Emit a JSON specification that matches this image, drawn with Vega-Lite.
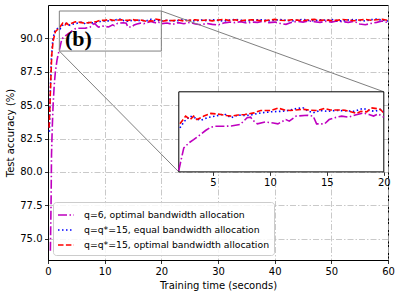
{
  "$schema": "https://vega.github.io/schema/vega-lite/v6.json",
  "width": 340,
  "height": 255,
  "autosize": {"type": "none"},
  "padding": {"left": 48, "top": 5, "right": 11, "bottom": 31},
  "background": "white",
  "datasets": {
    "acc": [
      {"t": 0.42, "acc": 74.1, "s": "q=6, optimal bandwidth allocation"},
      {"t": 0.55, "acc": 78.0, "s": "q=6, optimal bandwidth allocation"},
      {"t": 0.62, "acc": 81.3, "s": "q=6, optimal bandwidth allocation"},
      {"t": 0.75, "acc": 83.3, "s": "q=6, optimal bandwidth allocation"},
      {"t": 0.9, "acc": 85.0, "s": "q=6, optimal bandwidth allocation"},
      {"t": 1.1, "acc": 86.5, "s": "q=6, optimal bandwidth allocation"},
      {"t": 1.3, "acc": 87.5, "s": "q=6, optimal bandwidth allocation"},
      {"t": 1.6, "acc": 88.4, "s": "q=6, optimal bandwidth allocation"},
      {"t": 1.85, "acc": 88.9, "s": "q=6, optimal bandwidth allocation"},
      {"t": 2.0, "acc": 89.1, "s": "q=6, optimal bandwidth allocation"},
      {"t": 2.15, "acc": 89.4, "s": "q=6, optimal bandwidth allocation"},
      {"t": 2.44, "acc": 89.95, "s": "q=6, optimal bandwidth allocation"},
      {"t": 2.9, "acc": 90.14, "s": "q=6, optimal bandwidth allocation"},
      {"t": 3.3, "acc": 90.26, "s": "q=6, optimal bandwidth allocation"},
      {"t": 3.9, "acc": 90.45, "s": "q=6, optimal bandwidth allocation"},
      {"t": 4.35, "acc": 90.6, "s": "q=6, optimal bandwidth allocation"},
      {"t": 4.8, "acc": 90.72, "s": "q=6, optimal bandwidth allocation"},
      {"t": 5.2, "acc": 90.76, "s": "q=6, optimal bandwidth allocation"},
      {"t": 6.0, "acc": 90.76, "s": "q=6, optimal bandwidth allocation"},
      {"t": 6.6, "acc": 90.77, "s": "q=6, optimal bandwidth allocation"},
      {"t": 7.4, "acc": 90.83, "s": "q=6, optimal bandwidth allocation"},
      {"t": 8.0, "acc": 91.08, "s": "q=6, optimal bandwidth allocation"},
      {"t": 8.3, "acc": 91.1, "s": "q=6, optimal bandwidth allocation"},
      {"t": 8.6, "acc": 90.95, "s": "q=6, optimal bandwidth allocation"},
      {"t": 8.9, "acc": 90.85, "s": "q=6, optimal bandwidth allocation"},
      {"t": 9.6, "acc": 90.92, "s": "q=6, optimal bandwidth allocation"},
      {"t": 10.3, "acc": 90.88, "s": "q=6, optimal bandwidth allocation"},
      {"t": 10.7, "acc": 90.85, "s": "q=6, optimal bandwidth allocation"},
      {"t": 11.4, "acc": 91.01, "s": "q=6, optimal bandwidth allocation"},
      {"t": 11.7, "acc": 90.95, "s": "q=6, optimal bandwidth allocation"},
      {"t": 12.3, "acc": 91.14, "s": "q=6, optimal bandwidth allocation"},
      {"t": 13.3, "acc": 91.17, "s": "q=6, optimal bandwidth allocation"},
      {"t": 13.8, "acc": 91.14, "s": "q=6, optimal bandwidth allocation"},
      {"t": 14.1, "acc": 90.85, "s": "q=6, optimal bandwidth allocation"},
      {"t": 14.8, "acc": 90.85, "s": "q=6, optimal bandwidth allocation"},
      {"t": 15.2, "acc": 91.01, "s": "q=6, optimal bandwidth allocation"},
      {"t": 15.7, "acc": 91.08, "s": "q=6, optimal bandwidth allocation"},
      {"t": 16.3, "acc": 91.14, "s": "q=6, optimal bandwidth allocation"},
      {"t": 16.9, "acc": 91.1, "s": "q=6, optimal bandwidth allocation"},
      {"t": 17.5, "acc": 91.18, "s": "q=6, optimal bandwidth allocation"},
      {"t": 18.2, "acc": 91.26, "s": "q=6, optimal bandwidth allocation"},
      {"t": 18.7, "acc": 91.2, "s": "q=6, optimal bandwidth allocation"},
      {"t": 19.1, "acc": 91.14, "s": "q=6, optimal bandwidth allocation"},
      {"t": 19.5, "acc": 91.22, "s": "q=6, optimal bandwidth allocation"},
      {"t": 20.0, "acc": 91.1, "s": "q=6, optimal bandwidth allocation"},
      {"t": 21, "acc": 91.15, "s": "q=6, optimal bandwidth allocation"},
      {"t": 22, "acc": 91.05, "s": "q=6, optimal bandwidth allocation"},
      {"t": 23, "acc": 91.18, "s": "q=6, optimal bandwidth allocation"},
      {"t": 24, "acc": 91.1, "s": "q=6, optimal bandwidth allocation"},
      {"t": 25, "acc": 91.2, "s": "q=6, optimal bandwidth allocation"},
      {"t": 26, "acc": 91.08, "s": "q=6, optimal bandwidth allocation"},
      {"t": 27, "acc": 91.02, "s": "q=6, optimal bandwidth allocation"},
      {"t": 28, "acc": 91.12, "s": "q=6, optimal bandwidth allocation"},
      {"t": 29, "acc": 91.05, "s": "q=6, optimal bandwidth allocation"},
      {"t": 30, "acc": 91.0, "s": "q=6, optimal bandwidth allocation"},
      {"t": 31, "acc": 91.15, "s": "q=6, optimal bandwidth allocation"},
      {"t": 32, "acc": 91.22, "s": "q=6, optimal bandwidth allocation"},
      {"t": 33, "acc": 91.18, "s": "q=6, optimal bandwidth allocation"},
      {"t": 34, "acc": 91.25, "s": "q=6, optimal bandwidth allocation"},
      {"t": 35, "acc": 91.15, "s": "q=6, optimal bandwidth allocation"},
      {"t": 36, "acc": 91.22, "s": "q=6, optimal bandwidth allocation"},
      {"t": 37, "acc": 91.2, "s": "q=6, optimal bandwidth allocation"},
      {"t": 38, "acc": 91.28, "s": "q=6, optimal bandwidth allocation"},
      {"t": 39, "acc": 91.18, "s": "q=6, optimal bandwidth allocation"},
      {"t": 40, "acc": 91.22, "s": "q=6, optimal bandwidth allocation"},
      {"t": 41, "acc": 91.12, "s": "q=6, optimal bandwidth allocation"},
      {"t": 42, "acc": 91.05, "s": "q=6, optimal bandwidth allocation"},
      {"t": 43, "acc": 91.2, "s": "q=6, optimal bandwidth allocation"},
      {"t": 44, "acc": 91.28, "s": "q=6, optimal bandwidth allocation"},
      {"t": 45, "acc": 91.22, "s": "q=6, optimal bandwidth allocation"},
      {"t": 46, "acc": 91.3, "s": "q=6, optimal bandwidth allocation"},
      {"t": 47, "acc": 91.25, "s": "q=6, optimal bandwidth allocation"},
      {"t": 48, "acc": 91.2, "s": "q=6, optimal bandwidth allocation"},
      {"t": 49, "acc": 91.28, "s": "q=6, optimal bandwidth allocation"},
      {"t": 50, "acc": 91.22, "s": "q=6, optimal bandwidth allocation"},
      {"t": 51, "acc": 91.3, "s": "q=6, optimal bandwidth allocation"},
      {"t": 52, "acc": 91.25, "s": "q=6, optimal bandwidth allocation"},
      {"t": 53, "acc": 91.2, "s": "q=6, optimal bandwidth allocation"},
      {"t": 54, "acc": 91.28, "s": "q=6, optimal bandwidth allocation"},
      {"t": 55, "acc": 91.08, "s": "q=6, optimal bandwidth allocation"},
      {"t": 56, "acc": 91.02, "s": "q=6, optimal bandwidth allocation"},
      {"t": 57, "acc": 91.12, "s": "q=6, optimal bandwidth allocation"},
      {"t": 58, "acc": 91.2, "s": "q=6, optimal bandwidth allocation"},
      {"t": 59, "acc": 91.3, "s": "q=6, optimal bandwidth allocation"},
      {"t": 60, "acc": 91.18, "s": "q=6, optimal bandwidth allocation"},

      {"t": 0.25, "acc": 83.0, "s": "q=q*=15, equal bandwidth allocation"},
      {"t": 0.4, "acc": 86.0, "s": "q=q*=15, equal bandwidth allocation"},
      {"t": 0.6, "acc": 88.5, "s": "q=q*=15, equal bandwidth allocation"},
      {"t": 0.85, "acc": 89.9, "s": "q=q*=15, equal bandwidth allocation"},
      {"t": 1.2, "acc": 90.55, "s": "q=q*=15, equal bandwidth allocation"},
      {"t": 1.8, "acc": 90.8, "s": "q=q*=15, equal bandwidth allocation"},
      {"t": 2.1, "acc": 90.7, "s": "q=q*=15, equal bandwidth allocation"},
      {"t": 2.5, "acc": 90.95, "s": "q=q*=15, equal bandwidth allocation"},
      {"t": 3.0, "acc": 91.14, "s": "q=q*=15, equal bandwidth allocation"},
      {"t": 3.4, "acc": 91.08, "s": "q=q*=15, equal bandwidth allocation"},
      {"t": 3.9, "acc": 90.98, "s": "q=q*=15, equal bandwidth allocation"},
      {"t": 4.5, "acc": 91.08, "s": "q=q*=15, equal bandwidth allocation"},
      {"t": 5.2, "acc": 91.14, "s": "q=q*=15, equal bandwidth allocation"},
      {"t": 6.0, "acc": 91.22, "s": "q=q*=15, equal bandwidth allocation"},
      {"t": 6.6, "acc": 91.08, "s": "q=q*=15, equal bandwidth allocation"},
      {"t": 7.2, "acc": 91.18, "s": "q=q*=15, equal bandwidth allocation"},
      {"t": 7.8, "acc": 91.16, "s": "q=q*=15, equal bandwidth allocation"},
      {"t": 8.3, "acc": 91.18, "s": "q=q*=15, equal bandwidth allocation"},
      {"t": 9.2, "acc": 91.26, "s": "q=q*=15, equal bandwidth allocation"},
      {"t": 10.1, "acc": 91.3, "s": "q=q*=15, equal bandwidth allocation"},
      {"t": 11.0, "acc": 91.32, "s": "q=q*=15, equal bandwidth allocation"},
      {"t": 11.6, "acc": 91.35, "s": "q=q*=15, equal bandwidth allocation"},
      {"t": 12.4, "acc": 91.43, "s": "q=q*=15, equal bandwidth allocation"},
      {"t": 12.9, "acc": 91.45, "s": "q=q*=15, equal bandwidth allocation"},
      {"t": 13.4, "acc": 91.32, "s": "q=q*=15, equal bandwidth allocation"},
      {"t": 13.8, "acc": 91.26, "s": "q=q*=15, equal bandwidth allocation"},
      {"t": 14.4, "acc": 91.35, "s": "q=q*=15, equal bandwidth allocation"},
      {"t": 15.0, "acc": 91.32, "s": "q=q*=15, equal bandwidth allocation"},
      {"t": 15.8, "acc": 91.35, "s": "q=q*=15, equal bandwidth allocation"},
      {"t": 16.6, "acc": 91.34, "s": "q=q*=15, equal bandwidth allocation"},
      {"t": 17.4, "acc": 91.32, "s": "q=q*=15, equal bandwidth allocation"},
      {"t": 18.2, "acc": 91.43, "s": "q=q*=15, equal bandwidth allocation"},
      {"t": 18.7, "acc": 91.35, "s": "q=q*=15, equal bandwidth allocation"},
      {"t": 19.2, "acc": 91.32, "s": "q=q*=15, equal bandwidth allocation"},
      {"t": 19.7, "acc": 91.39, "s": "q=q*=15, equal bandwidth allocation"},
      {"t": 20.0, "acc": 91.3, "s": "q=q*=15, equal bandwidth allocation"},
      {"t": 21, "acc": 91.36, "s": "q=q*=15, equal bandwidth allocation"},
      {"t": 22, "acc": 91.3, "s": "q=q*=15, equal bandwidth allocation"},
      {"t": 23, "acc": 91.34, "s": "q=q*=15, equal bandwidth allocation"},
      {"t": 24, "acc": 91.4, "s": "q=q*=15, equal bandwidth allocation"},
      {"t": 25, "acc": 91.35, "s": "q=q*=15, equal bandwidth allocation"},
      {"t": 26, "acc": 91.3, "s": "q=q*=15, equal bandwidth allocation"},
      {"t": 27, "acc": 91.38, "s": "q=q*=15, equal bandwidth allocation"},
      {"t": 28, "acc": 91.33, "s": "q=q*=15, equal bandwidth allocation"},
      {"t": 29, "acc": 91.4, "s": "q=q*=15, equal bandwidth allocation"},
      {"t": 30, "acc": 91.35, "s": "q=q*=15, equal bandwidth allocation"},
      {"t": 31, "acc": 91.3, "s": "q=q*=15, equal bandwidth allocation"},
      {"t": 32, "acc": 91.37, "s": "q=q*=15, equal bandwidth allocation"},
      {"t": 33, "acc": 91.42, "s": "q=q*=15, equal bandwidth allocation"},
      {"t": 34, "acc": 91.36, "s": "q=q*=15, equal bandwidth allocation"},
      {"t": 35, "acc": 91.3, "s": "q=q*=15, equal bandwidth allocation"},
      {"t": 36, "acc": 91.35, "s": "q=q*=15, equal bandwidth allocation"},
      {"t": 37, "acc": 91.4, "s": "q=q*=15, equal bandwidth allocation"},
      {"t": 38, "acc": 91.38, "s": "q=q*=15, equal bandwidth allocation"},
      {"t": 39, "acc": 91.32, "s": "q=q*=15, equal bandwidth allocation"},
      {"t": 40, "acc": 91.36, "s": "q=q*=15, equal bandwidth allocation"},
      {"t": 41, "acc": 91.41, "s": "q=q*=15, equal bandwidth allocation"},
      {"t": 42, "acc": 91.35, "s": "q=q*=15, equal bandwidth allocation"},
      {"t": 43, "acc": 91.3, "s": "q=q*=15, equal bandwidth allocation"},
      {"t": 44, "acc": 91.38, "s": "q=q*=15, equal bandwidth allocation"},
      {"t": 45, "acc": 91.42, "s": "q=q*=15, equal bandwidth allocation"},
      {"t": 46, "acc": 91.34, "s": "q=q*=15, equal bandwidth allocation"},
      {"t": 47, "acc": 91.31, "s": "q=q*=15, equal bandwidth allocation"},
      {"t": 48, "acc": 91.4, "s": "q=q*=15, equal bandwidth allocation"},
      {"t": 49, "acc": 91.36, "s": "q=q*=15, equal bandwidth allocation"},
      {"t": 50, "acc": 91.42, "s": "q=q*=15, equal bandwidth allocation"},
      {"t": 51, "acc": 91.33, "s": "q=q*=15, equal bandwidth allocation"},
      {"t": 52, "acc": 91.3, "s": "q=q*=15, equal bandwidth allocation"},
      {"t": 53, "acc": 91.38, "s": "q=q*=15, equal bandwidth allocation"},
      {"t": 54, "acc": 91.41, "s": "q=q*=15, equal bandwidth allocation"},
      {"t": 55, "acc": 91.35, "s": "q=q*=15, equal bandwidth allocation"},
      {"t": 56, "acc": 91.3, "s": "q=q*=15, equal bandwidth allocation"},
      {"t": 57, "acc": 91.4, "s": "q=q*=15, equal bandwidth allocation"},
      {"t": 58, "acc": 91.44, "s": "q=q*=15, equal bandwidth allocation"},
      {"t": 59, "acc": 91.36, "s": "q=q*=15, equal bandwidth allocation"},
      {"t": 60, "acc": 91.3, "s": "q=q*=15, equal bandwidth allocation"},

      {"t": 0.2, "acc": 83.3, "s": "q=q*=15, optimal bandwidth allocation"},
      {"t": 0.45, "acc": 86.3, "s": "q=q*=15, optimal bandwidth allocation"},
      {"t": 0.65, "acc": 88.7, "s": "q=q*=15, optimal bandwidth allocation"},
      {"t": 0.9, "acc": 89.8, "s": "q=q*=15, optimal bandwidth allocation"},
      {"t": 1.3, "acc": 90.5, "s": "q=q*=15, optimal bandwidth allocation"},
      {"t": 1.9, "acc": 90.75, "s": "q=q*=15, optimal bandwidth allocation"},
      {"t": 2.1, "acc": 90.85, "s": "q=q*=15, optimal bandwidth allocation"},
      {"t": 2.6, "acc": 91.14, "s": "q=q*=15, optimal bandwidth allocation"},
      {"t": 3.0, "acc": 91.01, "s": "q=q*=15, optimal bandwidth allocation"},
      {"t": 3.3, "acc": 91.14, "s": "q=q*=15, optimal bandwidth allocation"},
      {"t": 3.6, "acc": 91.01, "s": "q=q*=15, optimal bandwidth allocation"},
      {"t": 4.2, "acc": 91.14, "s": "q=q*=15, optimal bandwidth allocation"},
      {"t": 4.8, "acc": 91.24, "s": "q=q*=15, optimal bandwidth allocation"},
      {"t": 5.3, "acc": 91.22, "s": "q=q*=15, optimal bandwidth allocation"},
      {"t": 5.7, "acc": 91.2, "s": "q=q*=15, optimal bandwidth allocation"},
      {"t": 6.2, "acc": 91.16, "s": "q=q*=15, optimal bandwidth allocation"},
      {"t": 6.6, "acc": 91.14, "s": "q=q*=15, optimal bandwidth allocation"},
      {"t": 7.2, "acc": 91.18, "s": "q=q*=15, optimal bandwidth allocation"},
      {"t": 7.8, "acc": 91.2, "s": "q=q*=15, optimal bandwidth allocation"},
      {"t": 8.6, "acc": 91.26, "s": "q=q*=15, optimal bandwidth allocation"},
      {"t": 9.2, "acc": 91.35, "s": "q=q*=15, optimal bandwidth allocation"},
      {"t": 10.1, "acc": 91.35, "s": "q=q*=15, optimal bandwidth allocation"},
      {"t": 10.7, "acc": 91.44, "s": "q=q*=15, optimal bandwidth allocation"},
      {"t": 11.3, "acc": 91.37, "s": "q=q*=15, optimal bandwidth allocation"},
      {"t": 11.8, "acc": 91.35, "s": "q=q*=15, optimal bandwidth allocation"},
      {"t": 12.5, "acc": 91.38, "s": "q=q*=15, optimal bandwidth allocation"},
      {"t": 13.0, "acc": 91.39, "s": "q=q*=15, optimal bandwidth allocation"},
      {"t": 13.6, "acc": 91.36, "s": "q=q*=15, optimal bandwidth allocation"},
      {"t": 14.2, "acc": 91.35, "s": "q=q*=15, optimal bandwidth allocation"},
      {"t": 14.8, "acc": 91.43, "s": "q=q*=15, optimal bandwidth allocation"},
      {"t": 15.3, "acc": 91.37, "s": "q=q*=15, optimal bandwidth allocation"},
      {"t": 16.0, "acc": 91.37, "s": "q=q*=15, optimal bandwidth allocation"},
      {"t": 16.6, "acc": 91.36, "s": "q=q*=15, optimal bandwidth allocation"},
      {"t": 17.1, "acc": 91.3, "s": "q=q*=15, optimal bandwidth allocation"},
      {"t": 17.6, "acc": 91.24, "s": "q=q*=15, optimal bandwidth allocation"},
      {"t": 18.0, "acc": 91.32, "s": "q=q*=15, optimal bandwidth allocation"},
      {"t": 18.5, "acc": 91.3, "s": "q=q*=15, optimal bandwidth allocation"},
      {"t": 18.9, "acc": 91.45, "s": "q=q*=15, optimal bandwidth allocation"},
      {"t": 19.4, "acc": 91.42, "s": "q=q*=15, optimal bandwidth allocation"},
      {"t": 19.7, "acc": 91.39, "s": "q=q*=15, optimal bandwidth allocation"},
      {"t": 20.0, "acc": 91.26, "s": "q=q*=15, optimal bandwidth allocation"},
      {"t": 21, "acc": 91.35, "s": "q=q*=15, optimal bandwidth allocation"},
      {"t": 22, "acc": 91.33, "s": "q=q*=15, optimal bandwidth allocation"},
      {"t": 23, "acc": 91.38, "s": "q=q*=15, optimal bandwidth allocation"},
      {"t": 24, "acc": 91.3, "s": "q=q*=15, optimal bandwidth allocation"},
      {"t": 25, "acc": 91.36, "s": "q=q*=15, optimal bandwidth allocation"},
      {"t": 26, "acc": 91.4, "s": "q=q*=15, optimal bandwidth allocation"},
      {"t": 27, "acc": 91.33, "s": "q=q*=15, optimal bandwidth allocation"},
      {"t": 28, "acc": 91.38, "s": "q=q*=15, optimal bandwidth allocation"},
      {"t": 29, "acc": 91.31, "s": "q=q*=15, optimal bandwidth allocation"},
      {"t": 30, "acc": 91.37, "s": "q=q*=15, optimal bandwidth allocation"},
      {"t": 31, "acc": 91.42, "s": "q=q*=15, optimal bandwidth allocation"},
      {"t": 32, "acc": 91.34, "s": "q=q*=15, optimal bandwidth allocation"},
      {"t": 33, "acc": 91.39, "s": "q=q*=15, optimal bandwidth allocation"},
      {"t": 34, "acc": 91.32, "s": "q=q*=15, optimal bandwidth allocation"},
      {"t": 35, "acc": 91.37, "s": "q=q*=15, optimal bandwidth allocation"},
      {"t": 36, "acc": 91.4, "s": "q=q*=15, optimal bandwidth allocation"},
      {"t": 37, "acc": 91.35, "s": "q=q*=15, optimal bandwidth allocation"},
      {"t": 38, "acc": 91.3, "s": "q=q*=15, optimal bandwidth allocation"},
      {"t": 39, "acc": 91.38, "s": "q=q*=15, optimal bandwidth allocation"},
      {"t": 40, "acc": 91.42, "s": "q=q*=15, optimal bandwidth allocation"},
      {"t": 41, "acc": 91.36, "s": "q=q*=15, optimal bandwidth allocation"},
      {"t": 42, "acc": 91.33, "s": "q=q*=15, optimal bandwidth allocation"},
      {"t": 43, "acc": 91.4, "s": "q=q*=15, optimal bandwidth allocation"},
      {"t": 44, "acc": 91.37, "s": "q=q*=15, optimal bandwidth allocation"},
      {"t": 45, "acc": 91.32, "s": "q=q*=15, optimal bandwidth allocation"},
      {"t": 46, "acc": 91.39, "s": "q=q*=15, optimal bandwidth allocation"},
      {"t": 47, "acc": 91.42, "s": "q=q*=15, optimal bandwidth allocation"},
      {"t": 48, "acc": 91.35, "s": "q=q*=15, optimal bandwidth allocation"},
      {"t": 49, "acc": 91.38, "s": "q=q*=15, optimal bandwidth allocation"},
      {"t": 50, "acc": 91.33, "s": "q=q*=15, optimal bandwidth allocation"},
      {"t": 51, "acc": 91.36, "s": "q=q*=15, optimal bandwidth allocation"},
      {"t": 52, "acc": 91.41, "s": "q=q*=15, optimal bandwidth allocation"},
      {"t": 53, "acc": 91.37, "s": "q=q*=15, optimal bandwidth allocation"},
      {"t": 54, "acc": 91.32, "s": "q=q*=15, optimal bandwidth allocation"},
      {"t": 55, "acc": 91.38, "s": "q=q*=15, optimal bandwidth allocation"},
      {"t": 56, "acc": 91.42, "s": "q=q*=15, optimal bandwidth allocation"},
      {"t": 57, "acc": 91.36, "s": "q=q*=15, optimal bandwidth allocation"},
      {"t": 58, "acc": 91.4, "s": "q=q*=15, optimal bandwidth allocation"},
      {"t": 59, "acc": 91.43, "s": "q=q*=15, optimal bandwidth allocation"},
      {"t": 60, "acc": 91.35, "s": "q=q*=15, optimal bandwidth allocation"}
    ]
  },
  "layer": [
    {
      "layer": [
        {
          "data": {"name": "acc"},
          "mark": {"type": "line", "strokeWidth": 1.6},
          "encoding": {
            "x": {"field": "t", "type": "quantitative", "scale": {"domain": [0, 60], "nice": false, "zero": false},
                  "axis": {"values": [0, 10, 20, 30, 40, 50, 60], "title": "Training time (seconds)", "grid": true, "labelFlush": false}},
            "y": {"field": "acc", "type": "quantitative", "scale": {"domain": [73.4, 92.5], "nice": false, "zero": false},
                  "axis": {"values": [75, 77.5, 80, 82.5, 85, 87.5, 90], "format": ".1f", "title": "Test accuracy (%)", "grid": true, "labelFlush": false}},
            "color": {"field": "s", "type": "nominal",
                      "scale": {"domain": ["q=6, optimal bandwidth allocation", "q=q*=15, equal bandwidth allocation", "q=q*=15, optimal bandwidth allocation"],
                                "range": ["#bf00bf", "#0000ff", "#ff0000"]},
                      "legend": {"title": null}},
            "strokeDash": {"field": "s", "type": "nominal",
                      "scale": {"domain": ["q=6, optimal bandwidth allocation", "q=q*=15, equal bandwidth allocation", "q=q*=15, optimal bandwidth allocation"],
                                "range": [[9, 2.5, 1.5, 2.5], [1.5, 2.5], [5.5, 2.4]]},
                      "legend": {"title": null}}
          }
        },
        {
          "data": {"values": [{}]},
          "mark": {"type": "rect", "fill": null, "fillOpacity": 0, "stroke": "#808080", "strokeWidth": 1},
          "encoding": {
            "x": {"datum": 2}, "x2": {"datum": 20},
            "y": {"datum": 89.05}, "y2": {"datum": 92.05}
          }
        },
        {
          "data": {"values": [{}]},
          "mark": {"type": "rule", "stroke": "#808080", "strokeWidth": 1},
          "encoding": {
            "x": {"datum": 20}, "y": {"datum": 92.05},
            "x2": {"datum": 59.26}, "y2": {"datum": 86.0}
          }
        },
        {
          "data": {"values": [{}]},
          "mark": {"type": "rule", "stroke": "#808080", "strokeWidth": 1},
          "encoding": {
            "x": {"datum": 2}, "y": {"datum": 89.05},
            "x2": {"datum": 23.08}, "y2": {"datum": 80.0}
          }
        },
        {
          "data": {"values": [{}]},
          "mark": {"type": "text", "text": "(b)", "font": "Liberation Serif", "fontWeight": "bold", "fontSize": 22, "align": "left", "baseline": "alphabetic", "color": "black"},
          "encoding": {
            "x": {"datum": 3.0}, "y": {"datum": 89.4}
          }
        }
      ]
    },
    {
      "layer": [
        {
          "data": {"values": [{}]},
          "mark": {"type": "rect", "fill": "white", "stroke": "black", "strokeWidth": 1},
          "encoding": {
            "x": {"datum": 2, "type": "quantitative", "scale": {"domain": [2, 20], "range": [130.8, 335.8], "nice": false, "zero": false},
                  "axis": {"orient": "bottom", "offset": -88.1, "values": [5, 10, 15, 20], "title": null, "grid": false, "domain": false, "labelFlush": false}},
            "x2": {"datum": 20},
            "y": {"datum": 89.05, "type": "quantitative", "scale": {"domain": [89.05, 92.05], "range": [166.9, 86.8], "nice": false, "zero": false}, "axis": null},
            "y2": {"datum": 92.05}
          }
        },
        {
          "data": {"name": "acc"},
          "transform": [{"filter": {"field": "t", "range": [2, 20]}}],
          "mark": {"type": "line", "strokeWidth": 1.6},
          "encoding": {
            "x": {"field": "t", "type": "quantitative"},
            "y": {"field": "acc", "type": "quantitative"},
            "color": {"field": "s", "type": "nominal", "legend": {"title": null}},
            "strokeDash": {"field": "s", "type": "nominal", "legend": {"title": null}}
          }
        }
      ]
    }
  ],
  "resolve": {
    "scale": {"x": "independent", "y": "independent"},
    "axis": {"x": "independent", "y": "independent"}
  },
  "config": {
    "view": {"stroke": "black", "strokeWidth": 1},
    "font": "DejaVu Sans",
    "axis": {
      "labelFont": "DejaVu Sans", "labelFontSize": 10, "labelColor": "black",
      "titleFont": "DejaVu Sans", "titleFontSize": 10, "titleFontWeight": "normal", "titleColor": "black",
      "domainColor": "black", "domainWidth": 1, "tickColor": "black", "tickSize": 3.5, "tickWidth": 0.8,
      "labelPadding": 2.5, "titlePadding": 4,
      "gridDash": [6, 2, 1.5, 2], "gridColor": "#bbbbbb", "gridWidth": 0.8
    },
    "legend": {
      "orient": "bottom-left", "offset": 5,
      "labelFont": "DejaVu Sans", "labelFontSize": 9.3, "labelColor": "black", "labelLimit": 400,
      "symbolType": "stroke", "symbolSize": 256, "symbolStrokeWidth": 1.6,
      "fillColor": "rgba(255,255,255,0.85)", "strokeColor": "#cccccc", "cornerRadius": 3,
      "padding": 4, "rowPadding": 0, "labelOffset": 9
    }
  }
}
